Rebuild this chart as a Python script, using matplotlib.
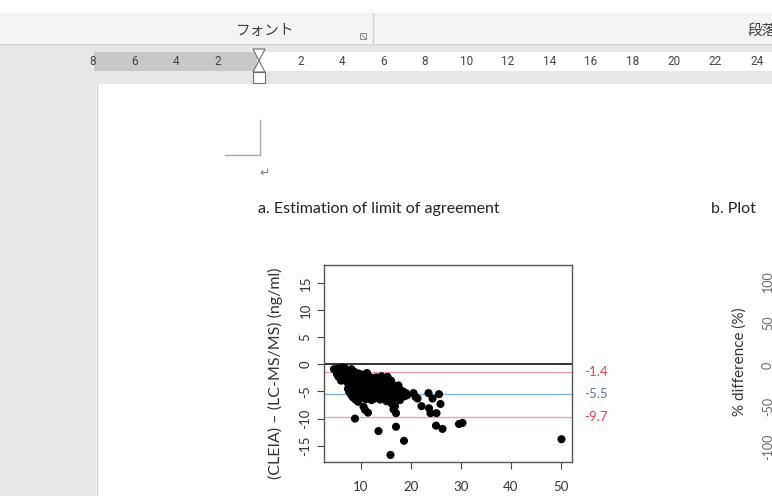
import matplotlib
matplotlib.use("Agg")
import matplotlib.pyplot as plt
from matplotlib.patches import Rectangle, Polygon

# --- data ---
avg_vals = [4.6, 5.0, 5.3, 5.6, 5.9, 6.2, 6.5, 6.8, 5.2, 5.5, 5.8, 6.1, 6.4, 6.7, 6.0, 6.9, 7.1,
            7.2, 7.4, 7.5, 7.6, 7.8, 7.9, 8.0, 8.1, 8.2, 8.3, 8.4, 8.5, 8.6, 8.7, 8.8, 8.9, 9.0,
            9.1, 9.2, 9.3, 9.4, 9.5, 9.6, 9.7, 9.8, 9.9, 10.0, 8.8,
            10.1, 10.2, 10.3, 10.4, 10.5, 10.6, 10.7, 10.8, 10.9, 11.0, 11.1, 11.2, 11.3, 11.4,
            11.5, 11.6, 11.7, 11.8, 11.9, 12.0, 12.1, 12.2, 12.3, 12.4, 12.5, 12.6, 12.7, 12.8, 12.9,
            13.0, 13.1, 13.2, 13.3, 13.4, 13.5, 13.6, 13.7, 13.8, 13.9, 14.0, 14.1, 14.2, 14.3,
            14.4, 14.6, 14.7, 14.8, 14.9, 15.0, 15.1, 15.2, 15.3, 15.4, 15.5, 15.6, 15.7, 15.9, 15.9,
            16.0, 16.1, 16.2, 16.3, 16.4, 16.5, 16.6, 16.7, 16.8, 16.9, 17.0, 17.0, 17.1, 17.3,
            17.5, 17.6, 17.8, 18.0, 18.2, 18.4, 18.6, 18.7, 19.0, 19.2,
            20.5, 20.9, 21.3, 22.1, 23.5, 23.6, 23.9, 24.3, 25.1, 25.0, 25.6, 25.9, 26.3, 29.6, 30.3,
            50.1]
diff_vals = [-0.9, -1.0, -0.8, -1.2, -0.9, -0.6, -1.1, -0.7, -1.8, -2.3, -1.6, -2.6, -2.0, -1.5, -3.0, -2.4, -1.2,
             -3.3, -4.5, -2.7, -5.0, -1.9, -3.8, -5.6, -0.9, -4.4, -2.8, -6.1, -3.5, -5.0, -1.4, -4.0, -6.5, -2.2,
             -5.3, -3.1, -4.7, -6.9, -1.7, -5.8, -3.7, -4.3, -2.6, -6.2, -10.0,
             -3.3, -5.0, -1.9, -4.1, -7.8, -5.6, -2.8, -8.4, -3.9, -6.4, -4.6, -1.6, -5.2, -8.9,
             -3.1, -6.0, -2.3, -4.9, -5.7, -3.6, -6.6, -4.2, -2.6, -5.4, -3.0, -4.7, -6.3, -3.8, -5.1,
             -2.4, -4.4, -6.0, -3.3, -5.5, -12.3, -2.9, -4.8, -6.5, -3.7, -5.2, -2.2, -4.1, -5.9,
             -3.4, -4.6, -6.3, -2.7, -5.4, -3.9, -6.8, -4.4, -2.3, -5.0, -3.2, -6.0, -4.2, -16.7, -5.6,
             -3.0, -7.2, -4.8, -3.7, -6.4, -8.3, -5.3, -4.0, -7.7, -5.8, -11.5, -9.0, -4.5, -6.2,
             -3.9, -5.1, -6.6, -4.8, -5.5, -5.0, -14.1, -5.9, -5.3, -5.7,
             -5.3, -6.0, -6.3, -7.7, -5.3, -8.1, -9.0, -6.3, -9.0, -11.3, -5.5, -7.3, -11.9, -11.0, -10.8,
             -13.8]
mean_diff = -5.5
upper_loa = -1.4
lower_loa = -9.7
y_ticks = [-15, -10, -5, 0, 5, 10, 15]
x_ticks = [10, 20, 30, 40, 50]
ruler_left = ["8", "6", "4", "2"]
ruler_right = ["2", "4", "6", "8", "10", "12", "14", "16", "18", "20", "22", "24"]
b_ticks = ["100", "50", "0", "-50", "-100"]

txt_font = ["Lato", "DejaVu Sans"]
jp_font = ["Noto Sans CJK JP", "DejaVu Sans"]

fig = plt.figure(figsize=(7.72, 4.96), dpi=100)
fig.patch.set_facecolor("white")

# background "Word window" drawn in pixel coordinates
bg = fig.add_axes([0, 0, 1, 1], zorder=0)
bg.set_xlim(0, 772)
bg.set_ylim(496, 0)
bg.axis("off")

bg.add_patch(Rectangle((0, 13), 772, 30, color="#f3f3f3", lw=0))
bg.plot([0, 772], [43.5, 43.5], color="#d6d6d6", lw=1)
bg.add_patch(Rectangle((0, 44), 772, 40, color="#e7e7e7", lw=0))
bg.add_patch(Rectangle((0, 44), 96, 452, color="#e7e7e7", lw=0))
bg.add_patch(Rectangle((97, 84), 675, 412, color="white", lw=0))
bg.plot([96.5, 96.5], [84, 496], color="#d2d2d2", lw=1)

# ribbon
bg.text(265, 31, "フォント", family=jp_font, fontsize=10.5, color="#404040", ha="center", va="center")
bg.add_patch(Rectangle((360, 33), 6, 6, fill=False, ec="#8a8a8a", lw=0.7))
bg.plot([362, 366], [35, 39], color="#8a8a8a", lw=0.7)
bg.plot([372.5, 372.5], [13, 43], color="#d0d0d0", lw=1)
bg.text(748, 31, "段落", family=jp_font, fontsize=10.5, color="#404040", ha="left", va="center")

# ruler
bg.add_patch(Rectangle((94, 52), 163, 19, color="#c8c8c8", lw=0))
bg.add_patch(Rectangle((257, 52), 515, 19, color="white", lw=0))
step = 41.5 / 2
for i, lab in enumerate(ruler_left):
    pos = 8 - 2 * i
    bg.text(259 - pos * step, 61.5, lab, fontsize=8.5, color="#454545", ha="center", va="center",
            family=["Roboto", "DejaVu Sans"])
for lab in ruler_right:
    bg.text(259 + int(lab) * step, 61.5, lab, fontsize=8.5, color="#454545", ha="center", va="center",
            family=["Roboto", "DejaVu Sans"])
bg.add_patch(Polygon([(253, 49), (265, 49), (259, 60.5)], closed=True, fc="white", ec="#707070", lw=0.8))
bg.add_patch(Polygon([(259, 60.5), (253, 72), (265, 72)], closed=True, fc="white", ec="#707070", lw=0.8))
bg.add_patch(Rectangle((253, 72), 12, 11, fc="white", ec="#707070", lw=0.8))

# page marks
bg.plot([259.5, 259.5], [120, 154.5], color="#a8a8a8", lw=1)
bg.plot([225, 259.5], [154.5, 154.5], color="#a8a8a8", lw=1)
bg.text(265, 173, "\u21b5", fontsize=9, color="#808080", ha="center", va="center", family="DejaVu Sans")

bg.text(258, 209, "a. Estimation of limit of agreement", family=txt_font, fontsize=11.5,
        color="#222222", ha="left", va="center")
bg.text(711, 209, "b. Plot", family=txt_font, fontsize=11.5, color="#222222", ha="left", va="center")

# panel b, cut off at the right edge as in the screenshot
bg.text(740, 362, "% difference (%)", family=txt_font, fontsize=11, color="#333333",
        rotation=90, ha="center", va="center")
for lab, yy in zip(b_ticks, [281, 323, 365, 406, 447]):
    bg.text(762, yy, lab, family=txt_font, fontsize=9, color="#666666", rotation=90,
            ha="left", va="center")

# panel a: Bland-Altman plot
ax = fig.add_axes([324 / 772, 1 - 462 / 496, 248 / 772, 197 / 496], zorder=2)
ax.scatter(avg_vals, diff_vals, s=34, color="black", edgecolors="none", zorder=3)
ax.axhline(0, color="#333333", lw=1.4, zorder=2)
ax.axhline(upper_loa, color="#eba3ad", lw=1, zorder=2)
ax.axhline(mean_diff, color="#7db4e2", lw=1, zorder=2)
ax.axhline(lower_loa, color="#eba3ad", lw=1, zorder=2)
ax.set_xlim(2.6, 52.2)
ax.set_ylim(-18.0, 18.3)
ax.set_xticks(x_ticks)
ax.set_yticks(y_ticks)
ax.set_yticklabels([str(v) for v in y_ticks], rotation=90, va="center")
ax.tick_params(colors="#444444", labelcolor="#333333", labelsize=9.5, length=5, width=0.8, pad=4)
ax.tick_params(axis="x", pad=9)
for lab in ax.get_xticklabels() + ax.get_yticklabels():
    lab.set_family(txt_font)
for sp in ax.spines.values():
    sp.set_color("#555555")
    sp.set_linewidth(1)
ax.set_ylabel("(CLEIA) \u2013 (LC-MS/MS) (ng/ml)", family=txt_font, fontsize=11.5,
              color="#333333")
ax.yaxis.set_label_coords(-0.165, 0.45)

for val, col in [(upper_loa, "#e0404f"), (mean_diff, "#5a76a8"), (lower_loa, "#e0404f")]:
    ax.text(1.05, val, f"{val}", transform=ax.get_yaxis_transform(), fontsize=9.5,
            color=col, ha="left", va="center", family=txt_font)

fig.savefig("out.png", dpi=100)
